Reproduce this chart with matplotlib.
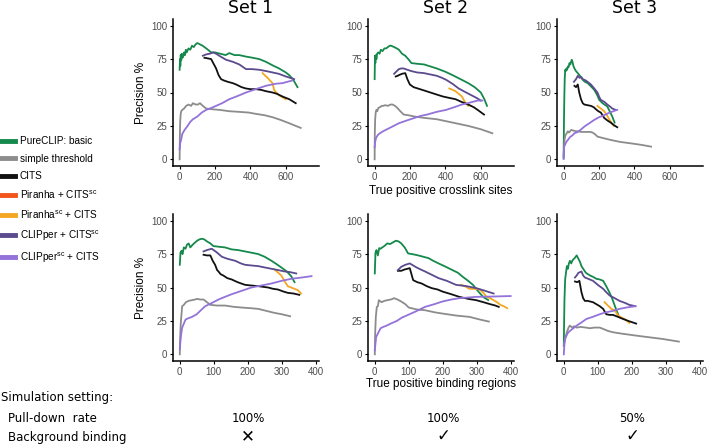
import matplotlib
matplotlib.use("Agg")
import matplotlib.pyplot as plt
from matplotlib.lines import Line2D

plt.rcParams['font.family'] = ['Liberation Sans', 'DejaVu Sans']
plt.rcParams['mathtext.default'] = 'regular'

set_titles = ['Set 1', 'Set 2', 'Set 3']
method_labels = ['PureCLIP: basic', 'simple threshold', 'CITS', 'Piranha + CITS$^{sc}$',
                 'Piranha$^{sc}$ + CITS', 'CLIPper + CITS$^{sc}$', 'CLIPper$^{sc}$ + CITS']
method_colors = ['#14894b', '#8c8c8c', '#111111', '#f2551c', '#f5a623', '#5b4a8e', '#9372d9']
top_ticks = [0, 200, 400, 600]
bottom_ticks = [0, 100, 200, 300, 400]
y_ticks = [0, 25, 50, 75, 100]
pulldown = ['100%', '100%', '50%']
background = ['\u2715', '\u2713', '\u2713']

# ---- top row: crosslink sites ----
t1_pure_x = [0, 2, 4, 6, 9, 12, 16, 20, 25, 30, 35, 40, 50, 60, 70, 80, 90, 100, 115, 130, 140, 160, 178, 200, 230, 260, 281, 310, 337, 370, 412, 450, 487, 530, 562, 600, 619, 640, 666]
t1_pure_y = [67, 75, 70, 78, 74, 79, 76, 77, 80, 78, 82, 80, 83, 82, 85, 84, 86, 87, 86, 85, 84, 82, 80, 80, 79, 78, 79.5, 78, 78, 77, 76, 75, 73, 70, 68, 65, 63, 60, 54]
t1_grey_x = [0, 1, 3, 6, 9, 15, 25, 37, 50, 65, 75, 90, 103, 115, 131, 150, 180, 225, 280, 337, 390, 431, 480, 525, 570, 619, 684]
t1_grey_y = [0, 15, 28, 34, 36, 37, 38, 40, 41, 40, 42, 41, 41, 42, 40, 38, 37.5, 37, 36, 35.5, 35, 34, 33, 31.5, 29.5, 27, 23.5]
t1_cits_x = [140, 160, 178, 190, 206, 220, 234, 250, 272, 300, 319, 350, 375, 400, 431, 460, 487, 525, 550, 581, 619, 656]
t1_cits_y = [76, 75.5, 75, 72, 68, 63, 60, 59, 58, 57, 56, 54, 53, 52.5, 52.5, 52, 51, 50, 49, 47, 45, 42]
t1_pirsc_x = [469, 480, 497, 510, 525, 534, 545, 562, 580, 600]
t1_pirsc_y = [64.5, 63, 61, 59, 57, 52, 50, 48, 46.5, 45]
t1_clip_x = [131, 150, 169, 190, 206, 230, 262, 300, 337, 375, 410, 450, 490, 525, 560, 600, 647]
t1_clip_y = [77.5, 78.5, 79, 80, 79, 77, 74.5, 73, 71, 67.5, 67.5, 67, 66, 65, 64, 62, 60]
t1_clipsc_x = [0, 3, 9, 15, 28, 45, 60, 75, 100, 125, 150, 180, 206, 240, 281, 330, 375, 430, 487, 540, 581, 637]
t1_clipsc_y = [7.5, 12, 15, 19, 22, 25, 28, 30, 32, 35, 37, 38.5, 40, 42, 45, 47.5, 50, 52.5, 55, 56.5, 57, 59]

t2_pure_x = [0, 2, 4, 7, 10, 14, 20, 28, 35, 45, 55, 65, 75, 85, 93, 110, 125, 137, 155, 173, 190, 208, 240, 279, 315, 351, 400, 440, 485, 529, 565, 600, 620, 635]
t2_pure_y = [60, 77.5, 72, 78, 75, 79, 80, 79, 82, 81, 83, 83, 84, 85, 85, 84, 83, 82, 79, 77.5, 75, 72, 71.5, 71, 69.5, 68, 65.5, 63, 60, 57, 54, 50, 45, 40]
t2_grey_x = [0, 1, 3, 6, 10, 15, 21, 30, 40, 48, 60, 75, 90, 101, 115, 128, 145, 164, 190, 226, 280, 351, 440, 529, 600, 665]
t2_grey_y = [0, 20, 30, 35, 37, 36, 38.5, 39, 40, 40, 40.5, 40, 41, 41, 40, 38.5, 36, 33.5, 33, 32, 31, 30, 27.5, 25, 22.5, 19.5]
t2_cits_x = [119, 130, 137, 155, 173, 185, 199, 220, 244, 280, 315, 350, 386, 420, 457, 490, 529, 560, 582, 618]
t2_cits_y = [62, 62.5, 63, 64, 64.5, 60, 56, 54, 53, 51.5, 50, 48.5, 47, 46, 45, 43, 41, 39, 37, 33.5]
t2_pirsc_x = [422, 440, 457, 475, 493, 510, 529]
t2_pirsc_y = [53, 52, 51, 49, 47, 43, 40]
t2_clip_x = [110, 125, 137, 150, 164, 185, 208, 240, 279, 315, 351, 380, 404, 440, 475, 510, 546, 575, 600]
t2_clip_y = [64, 66, 67.5, 68, 68, 67, 66, 65, 64.5, 63.5, 62.5, 61, 59.5, 56.5, 53, 50.5, 48, 46, 44]
t2_clipsc_x = [0, 3, 8, 12, 20, 30, 48, 70, 100, 137, 180, 226, 260, 297, 350, 404, 450, 493, 540, 582, 609]
t2_clipsc_y = [9, 13, 16, 17, 18.5, 19.5, 21, 22.5, 24.5, 27, 29, 31, 32.5, 33.5, 35.5, 37, 39, 41, 42.5, 44, 44]

t3_pure_x = [0, 2, 4, 6, 9, 12, 16, 20, 24, 28, 33, 38, 42, 46, 50, 55, 61, 70, 80, 95, 108, 120, 136, 155, 173, 190, 201, 220, 247, 260, 275, 288]
t3_pure_y = [2, 30, 47, 60, 67, 66, 68, 67, 69.5, 69, 72, 71, 73, 74.5, 73, 70, 68, 66, 64.5, 62, 59.5, 58, 57, 54.5, 52, 48, 44.5, 42, 39.5, 36, 32, 27.5]
t3_grey_x = [0, 2, 5, 10, 15, 24, 30, 43, 55, 70, 80, 100, 120, 136, 150, 164, 180, 191, 220, 266, 320, 377, 440, 494]
t3_grey_y = [0.5, 8, 14.5, 18, 19, 21, 20, 22, 21.5, 21, 21, 20.5, 20.5, 20.5, 20.5, 20, 18.5, 17, 16, 14.5, 13, 12, 10.8, 9.5]
t3_cits_x = [61, 70, 80, 88, 98, 108, 117, 135, 154, 170, 182, 196, 210, 220, 229, 248, 266, 285, 303]
t3_cits_y = [55, 54, 56, 50, 45, 42, 41, 40.5, 40, 39, 37.5, 36, 35, 33, 31, 29, 27.5, 25.5, 24]
t3_pirsc_x = [191, 210, 229, 245, 257, 270, 284]
t3_pirsc_y = [40, 38, 36, 33, 30, 27.5, 25]
t3_clip_x = [58, 70, 80, 90, 100, 108, 125, 140, 154, 170, 191, 200, 210, 230, 247, 262, 275, 294]
t3_clip_y = [58, 60, 62.5, 61, 61.5, 60, 59, 57.5, 56, 53.5, 50, 47, 44.5, 43, 41, 39.5, 38, 37]
t3_clipsc_x = [0, 1, 3, 8, 15, 24, 35, 50, 61, 80, 100, 117, 145, 173, 200, 229, 260, 303]
t3_clipsc_y = [0.5, 5, 9.5, 11, 13, 14.5, 16.5, 18, 19.5, 20.5, 22.5, 24.5, 27, 29.5, 31.5, 33, 35, 37]

# ---- bottom row: binding regions ----
b1_pure_x = [0, 2, 5, 8, 12, 17, 21, 26, 31, 36, 42, 51, 58, 65, 72, 80, 90, 99, 115, 133, 153, 172, 192, 212, 231, 250, 270, 285, 299, 315, 328, 338]
b1_pure_y = [67, 76, 77.5, 75, 80, 79, 82, 83, 80, 81.5, 83, 85, 86, 86.5, 86, 84.5, 83, 81, 80.5, 80, 78.5, 78, 77, 76, 75, 73, 70, 67.5, 65, 62, 58.5, 54]
b1_grey_x = [0, 1, 3, 5, 7, 12, 18, 26, 35, 45, 51, 60, 70, 80, 90, 110, 133, 160, 182, 210, 231, 255, 279, 300, 325]
b1_grey_y = [0, 12, 23.5, 30, 36, 37, 39, 40, 40.5, 41, 41.5, 41, 41, 39, 37, 36.5, 36.5, 35.5, 35, 34.5, 34, 32.5, 31, 30, 28.5]
b1_cits_x = [70, 80, 90, 97, 104, 110, 114, 120, 128, 140, 153, 170, 192, 210, 231, 245, 260, 275, 289, 305, 318, 335, 352]
b1_cits_y = [74.5, 74, 74, 70, 67, 63, 62, 60, 59, 57, 56, 54, 52, 51.5, 51, 50.5, 50, 49, 48.5, 47, 46, 45.5, 44.5]
b1_pirsc_x = [279, 290, 299, 308, 318, 328, 338, 348, 357]
b1_pirsc_y = [63.5, 61, 59, 55, 51, 50, 49, 48, 45.5]
b1_clip_x = [70, 80, 94, 108, 124, 140, 163, 180, 192, 210, 231, 250, 270, 290, 309, 325, 343]
b1_clip_y = [77, 78, 79, 76.5, 73, 71.5, 70, 68, 67, 66.5, 66, 65, 64, 63, 62, 61.5, 60.5]
b1_clipsc_x = [0, 2, 4, 7, 12, 17, 25, 36, 50, 62, 75, 95, 114, 133, 153, 182, 211, 240, 270, 300, 328, 360, 388]
b1_clipsc_y = [4, 10, 15, 20, 23, 26, 27, 28, 30, 33, 36, 38.5, 41, 43, 45, 47.5, 50, 51.5, 53, 55, 56.5, 57.5, 58.5]

b2_pure_x = [0, 2, 5, 9, 13, 17, 22, 28, 37, 45, 55, 62, 70, 78, 88, 98, 110, 128, 143, 158, 172, 188, 205, 229, 245, 259, 275, 289, 305, 319, 334]
b2_pure_y = [60.5, 76, 78, 74, 79.5, 79, 80, 81, 83, 82.5, 84, 85, 84.5, 83, 80, 75.5, 75, 74, 73, 72, 70, 68, 66, 63, 61, 58, 55, 52, 47, 43, 40.6]
b2_grey_x = [0, 1, 3, 6, 9, 12, 20, 28, 37, 47, 57, 67, 78, 90, 100, 108, 125, 148, 175, 199, 240, 279, 310, 336]
b2_grey_y = [0, 15, 28, 35.5, 36, 40.5, 39, 40, 40.5, 41, 42, 41, 39.5, 37.5, 35, 34.5, 33.5, 33, 31.5, 30.5, 29, 28, 26, 24.5]
b2_cits_x = [68, 78, 88, 96, 103, 108, 113, 125, 138, 153, 168, 185, 199, 225, 249, 275, 299, 320, 340, 355, 365]
b2_cits_y = [62.5, 62.5, 63.5, 64, 64.5, 60, 55.5, 54, 53, 51, 49.5, 48.5, 47, 45, 43, 41.5, 40.5, 39, 37.5, 36.5, 35.5]
b2_pirsc_x = [254, 265, 279, 295, 309, 320, 329, 340, 350, 360, 370, 380, 390]
b2_pirsc_y = [52, 51, 49, 49, 48.5, 46, 43, 42, 40.5, 39, 37, 36, 34.5]
b2_clip_x = [68, 78, 90, 103, 113, 123, 135, 148, 168, 188, 212, 239, 270, 299, 325, 350]
b2_clip_y = [63, 65.5, 67, 68, 66.5, 65, 63.5, 62, 59.5, 57, 55, 52, 51, 49.5, 47.5, 45.5]
b2_clipsc_x = [0, 2, 4, 8, 12, 17, 25, 35, 47, 65, 80, 98, 120, 148, 175, 199, 225, 249, 275, 299, 340, 400]
b2_clipsc_y = [3, 8, 13, 15, 17, 19.5, 20.5, 21.5, 23, 25, 27.5, 29.5, 32, 35.5, 37.5, 39.5, 41, 42, 42.5, 43, 43.2, 43.6]

b3_pure_x = [0, 1, 2, 4, 6, 9, 12, 15, 18, 22, 25, 28, 32, 35, 38, 42, 48, 52, 57, 65, 77, 86, 96, 106, 116, 125, 135, 142, 150, 155, 160]
b3_pure_y = [6.5, 25, 41, 56, 60, 66, 64, 68, 70, 68, 70, 71, 72, 73, 74, 72, 69, 66, 64, 61, 59, 58, 56.5, 56, 55, 51, 46, 42, 36.5, 33, 30]
b3_grey_x = [0, 4, 9, 14, 18, 25, 30, 38, 50, 65, 77, 90, 106, 116, 130, 145, 170, 213, 250, 291, 339]
b3_grey_y = [6.5, 12, 16.5, 20, 21.5, 20, 21, 20, 20.5, 20, 19.5, 20, 20, 19, 17.5, 16.5, 15.5, 14, 12.8, 11.5, 9.5]
b3_cits_x = [33, 40, 46, 52, 57, 62, 70, 86, 96, 106, 116, 125, 135, 145, 160, 174, 190, 213]
b3_cits_y = [54.5, 54, 55, 46.5, 42, 40, 40, 39, 37.5, 36, 34, 30, 29.5, 29.5, 28, 26.5, 25, 23]
b3_pirsc_x = [120, 130, 140, 150, 160, 170, 179, 186, 193]
b3_pirsc_y = [39, 36.5, 34, 33, 29, 27.5, 26.5, 25, 23.5]
b3_clip_x = [33, 38, 43, 48, 52, 57, 62, 72, 86, 100, 116, 125, 135, 150, 164, 180, 193, 211]
b3_clip_y = [57.5, 59, 61, 61.5, 62, 59, 57.5, 56.5, 55, 52, 49, 46.5, 44, 42, 40, 38.5, 37, 36]
b3_clipsc_x = [0, 2, 4, 8, 12, 18, 28, 38, 50, 67, 85, 106, 125, 145, 164, 184, 211]
b3_clipsc_y = [0, 8, 11.5, 14, 16, 17.5, 19.5, 21.5, 23.5, 26.5, 28, 30, 31.5, 32.5, 34, 35, 36]

# series per panel, in drawing order: (x, y, index into method_colors)
panels = [
    [(t1_pure_x, t1_pure_y, 0), (t1_grey_x, t1_grey_y, 1), (t1_pirsc_x, t1_pirsc_y, 4),
     (t1_cits_x, t1_cits_y, 2), (t1_clip_x, t1_clip_y, 5), (t1_clipsc_x, t1_clipsc_y, 6)],
    [(t2_pure_x, t2_pure_y, 0), (t2_grey_x, t2_grey_y, 1), (t2_pirsc_x, t2_pirsc_y, 4),
     (t2_cits_x, t2_cits_y, 2), (t2_clip_x, t2_clip_y, 5), (t2_clipsc_x, t2_clipsc_y, 6)],
    [(t3_pure_x, t3_pure_y, 0), (t3_grey_x, t3_grey_y, 1), (t3_pirsc_x, t3_pirsc_y, 4),
     (t3_cits_x, t3_cits_y, 2), (t3_clip_x, t3_clip_y, 5), (t3_clipsc_x, t3_clipsc_y, 6)],
    [(b1_pure_x, b1_pure_y, 0), (b1_grey_x, b1_grey_y, 1), (b1_pirsc_x, b1_pirsc_y, 4),
     (b1_cits_x, b1_cits_y, 2), (b1_clip_x, b1_clip_y, 5), (b1_clipsc_x, b1_clipsc_y, 6)],
    [(b2_pure_x, b2_pure_y, 0), (b2_grey_x, b2_grey_y, 1), (b2_pirsc_x, b2_pirsc_y, 4),
     (b2_cits_x, b2_cits_y, 2), (b2_clip_x, b2_clip_y, 5), (b2_clipsc_x, b2_clipsc_y, 6)],
    [(b3_pure_x, b3_pure_y, 0), (b3_grey_x, b3_grey_y, 1), (b3_pirsc_x, b3_pirsc_y, 4),
     (b3_cits_x, b3_cits_y, 2), (b3_clip_x, b3_clip_y, 5), (b3_clipsc_x, b3_clipsc_y, 6)],
]

W, H = 709, 445
fig = plt.figure(figsize=(W / 100, H / 100), dpi=100)

col_left = [173, 368, 557]
row_top = [19, 214]
pw, ph = 146, 147

def px_axes(left, top, w, h):
    return fig.add_axes([left / W, 1 - (top + h) / H, w / W, h / H])

for i, series in enumerate(panels):
    row, col = divmod(i, 3)
    ax = px_axes(col_left[col], row_top[row], pw, ph)
    for x, y, c in series:
        ax.plot(x, y, color=method_colors[c], lw=1.3, solid_joinstyle='round')
    ax.set_ylim(-5, 105)
    ax.set_yticks(y_ticks)
    if row == 0:
        ax.set_xlim(-37.5, 787.5)
        ax.set_xticks(top_ticks)
    else:
        ax.set_xlim(-20, 410)
        ax.set_xticks(bottom_ticks)
    for s in ['top', 'right']:
        ax.spines[s].set_visible(False)
    for s in ['left', 'bottom']:
        ax.spines[s].set_linewidth(1.1)
    ax.tick_params(length=2.5, width=0.8, labelsize=7, labelcolor='#4d4d4d', pad=1.5)
    if col == 0:
        ax.set_ylabel('Precision %', fontsize=8.5, labelpad=3)

# titles and axis labels
for col in range(3):
    fig.text((col_left[col] + pw / 2 + 5) / W, 1 - 8 / H, set_titles[col], ha='center', va='center',
             fontsize=12.5, family='DejaVu Sans')
fig.text((col_left[1] + pw / 2) / W, 1 - 191 / H, 'True positive crosslink sites',
         ha='center', va='center', fontsize=8.5)
fig.text((col_left[1] + pw / 2) / W, 1 - 384 / H, 'True positive binding regions',
         ha='center', va='center', fontsize=8.5)

# legend
handles = [Line2D([], [], color=c, lw=3.5) for c in method_colors]
fig.legend(handles, method_labels, loc='upper left', bbox_to_anchor=(-0.012, 1 - 127 / H),
           frameon=False, fontsize=7.2, handlelength=1.5, handletextpad=0.45, labelspacing=0.75)

# simulation settings
fig.text(1 / W, 1 - 398 / H, 'Simulation setting:', ha='left', va='center', fontsize=8.5,
         family='DejaVu Sans')
fig.text(8 / W, 1 - 418 / H, 'Pull-down  rate', ha='left', va='center', fontsize=8.5,
         family='DejaVu Sans')
fig.text(8 / W, 1 - 437 / H, 'Background binding', ha='left', va='center', fontsize=8.5,
         family='DejaVu Sans')
for col in range(3):
    cx = (col_left[col] + pw / 2 + 2) / W
    fig.text(cx, 1 - 418 / H, pulldown[col], ha='center', va='center', fontsize=8.5,
             family='DejaVu Sans')
    fig.text(cx, 1 - 436 / H, background[col], ha='center', va='center', fontsize=12,
             family='DejaVu Sans', fontweight='bold')

fig.savefig('out.png', dpi=100)
